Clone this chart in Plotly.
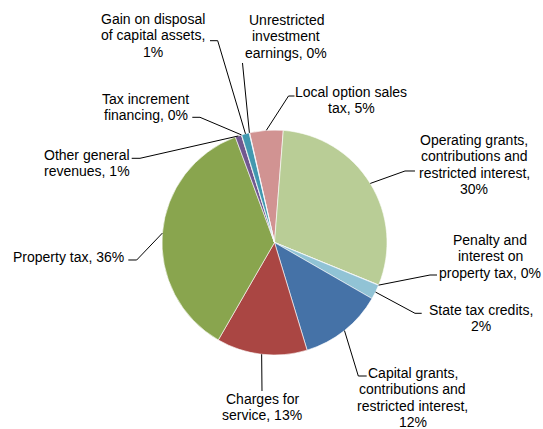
import math
import plotly.graph_objects as go

# ---- data (percent shares, clockwise order starting with Local option sales tax) ----
labels = [
    "Local option sales tax",
    "Operating grants, contributions and restricted interest",
    "Penalty and interest on property tax",
    "State tax credits",
    "Capital grants, contributions and restricted interest",
    "Charges for service",
    "Property tax",
    "Other general revenues",
    "Tax increment financing",
    "Gain on disposal of capital assets",
    "Unrestricted investment earnings",
]
values = [4.8, 29.9, 0.05, 2.1, 12.0, 13.0, 36.0, 0.9, 0.05, 1.1, 0.05]
pct_text = ["5%", "30%", "0%", "2%", "12%", "13%", "36%", "1%", "0%", "1%", "0%"]
colors = ["#D19392", "#B9CD96", "#A99BBD", "#91C3D5", "#4572A7", "#AA4643",
          "#89A54E", "#71588F", "#DB843D", "#4198AF", "#93A9CF"]

label_lines = [
    ["Local option sales", "tax, 5%"],
    ["Operating grants,", "contributions and", "restricted interest,", "30%"],
    ["Penalty and", "interest on", "property tax, 0%"],
    ["State tax credits,", "2%"],
    ["Capital grants,", "contributions and", "restricted interest,", "12%"],
    ["Charges for", "service, 13%"],
    ["Property tax, 36%"],
    ["Other general", "revenues, 1%"],
    ["Tax increment", "financing, 0%"],
    ["Gain on disposal", "of capital assets,", "1%"],
    ["Unrestricted", "investment", "earnings, 0%"],
]

# ---- layout (pixels) ----
W, H = 543, 429
CX, CY, R = 274.5, 242.5, 112.5
ROTATION = -12.8
LINE_H = 16.3
FONT = dict(family="Liberation Sans, Arial, sans-serif", size=14, color="#000000")

# label block: (center x, first-line center y)
label_pos = [
    (351, 92), (474, 140), (490, 240), (481, 310), (413, 373), (262, 399),
    (68.5, 257), (86.5, 155), (145.5, 98.5), (153, 19), (286, 20),
]
# leader line points on the label side (from pie outward)
leader_pts = [
    [(288.5, 96), (294.5, 96)],
    [(405, 171), (415, 171)],
    [(430, 275), (437, 275)],
    [(415, 313.3), (421.7, 313.3)],
    [(358.3, 376), (366.7, 376)],
    [(262, 391)],
    [(136.7, 260), (128.3, 260)],
    [(140, 158.3), (131.7, 158.3)],
    [(200, 117.3), (192.3, 117.3)],
    [(217.7, 40.7), (210, 40.7)],
    [(242.5, 63)],
]


def px(x):
    return x / W


def py(y):
    return 1 - y / H


fig = go.Figure(go.Pie(
    labels=labels,
    values=values,
    sort=False,
    direction="clockwise",
    rotation=ROTATION,
    marker=dict(colors=colors, line=dict(color="#FFFFFF", width=0.6)),
    textinfo="none",
    hoverinfo="label+percent",
    showlegend=False,
    domain=dict(x=[px(CX - R), px(CX + R)], y=[py(CY + R), py(CY - R)]),
))

total = sum(values)
shapes = []
annotations = []
cum = 0.0
for i, v in enumerate(values):
    mid = ROTATION + (cum + v / 2) / total * 360.0
    cum += v
    a = math.radians(mid)
    ex, ey = CX + R * math.sin(a), CY - R * math.cos(a)
    pts = [(ex, ey)] + leader_pts[i]
    path = "M " + " L ".join(f"{px(x):.5f},{py(y):.5f}" for x, y in pts)
    shapes.append(dict(type="path", path=path, xref="paper", yref="paper",
                       line=dict(color="#000000", width=1)))
    lx, ly = label_pos[i]
    for k, line in enumerate(label_lines[i]):
        annotations.append(dict(
            x=px(lx), y=py(ly + k * LINE_H), xref="paper", yref="paper",
            text=line, showarrow=False, xanchor="center", yanchor="middle",
            font=FONT,
        ))

fig.update_layout(
    width=W, height=H,
    margin=dict(l=0, r=0, t=0, b=0),
    paper_bgcolor="#FFFFFF",
    plot_bgcolor="#FFFFFF",
    shapes=shapes,
    annotations=annotations,
)

fig.write_html("out.html")
